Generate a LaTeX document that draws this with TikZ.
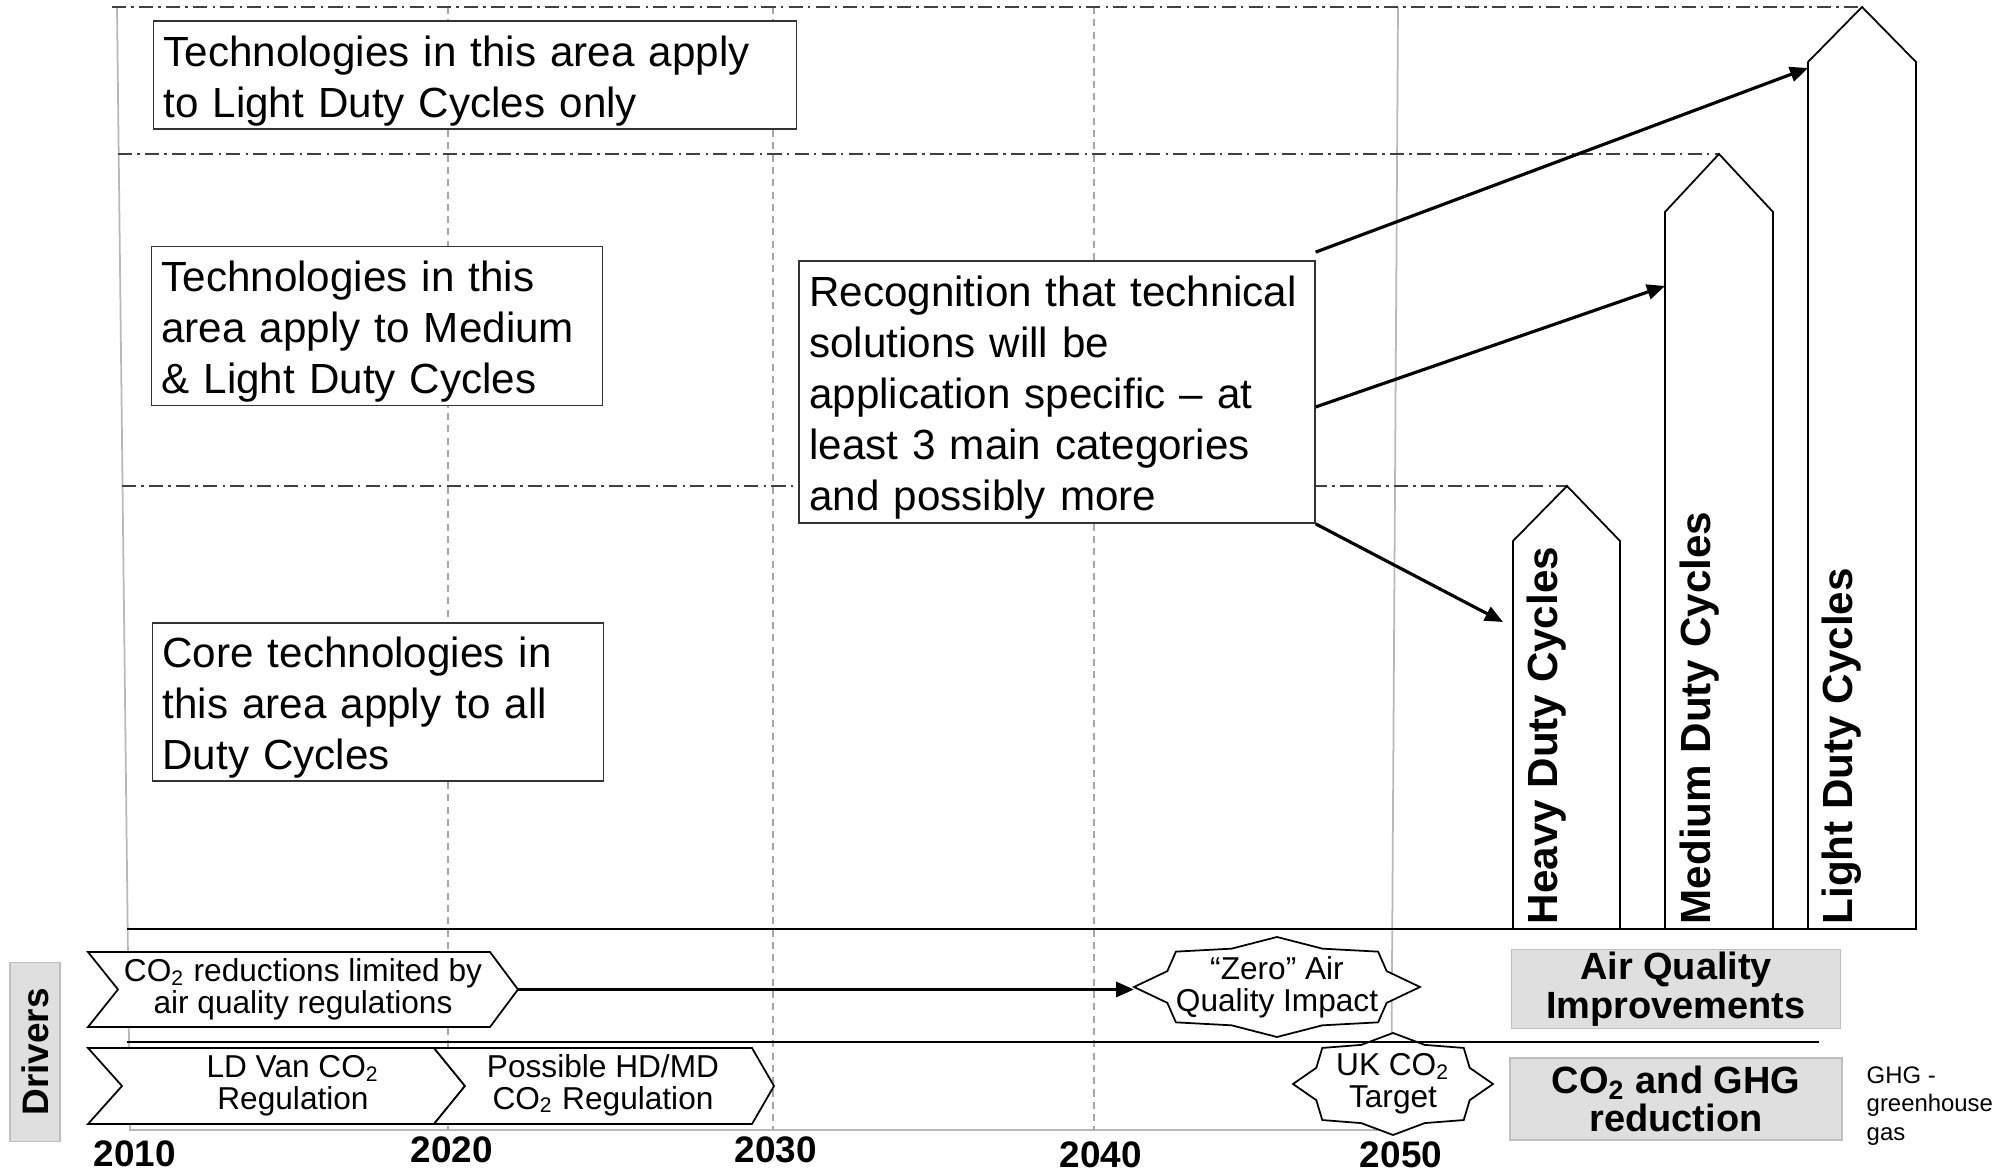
\documentclass[tikz,border=0pt]{standalone}
\usepackage{fontspec}
\setmainfont{Liberation Sans}
\usetikzlibrary{arrows.meta}
\newcommand{\cotwo}{CO\textsubscript{2}}
\begin{document}
\begin{tikzpicture}[x=0.1mm, y=-0.1mm,
  grid/.style={gray!70, line width=0.4pt, dash pattern=on 2pt off 1.5pt},
  frame/.style={gray!55, line width=0.5pt},
  band/.style={black!75, line width=0.5pt, dash pattern=on 4pt off 1.5pt on 0.7pt off 1.5pt},
  rule/.style={black, line width=0.8pt},
  note/.style={draw=black!80, line width=0.5pt, fill=white, inner sep=0pt},
  notetext/.style={inner xsep=1mm, inner ysep=0pt, align=left, font=\fontsize{12}{14.5}\selectfont},
  duty/.style={draw=black, line width=0.5pt, fill=white},
  dutylabel/.style={rotate=90, anchor=base west, inner sep=0pt, font=\fontsize{12}{14}\selectfont\bfseries},
  chev/.style={draw=black, line width=0.5pt, fill=white},
  drvtext/.style={align=center, inner sep=0pt, font=\fontsize{9}{9.1}\selectfont},
  burst/.style={draw=black, line width=0.5pt, fill=white},
  year/.style={inner sep=0pt, font=\fontsize{10.5}{12}\selectfont\bfseries},
  greybox/.style={draw=gray!50, fill=gray!25, line width=0.5pt, align=center, inner sep=0pt},
  pointer/.style={black, line width=0.9pt, -{Triangle[length=1.8mm, width=1.5mm]}}]
  \useasboundingbox (0,0) rectangle (2015,1172);

  \draw[frame] (117,7) -- (130,1130) -- (1391,1130) -- (1398,7);
  \foreach \x in {448,773,1094}
    \draw[grid] (\x,7) -- (\x,1130);

  \draw[band] (112,7) -- (1862,7);
  \draw[band] (118,154) -- (1719,154);
  \draw[band] (122,486) -- (1567,486);

  \draw[duty] (1513,929) -- (1513,541) -- (1567,486) -- (1620,541) -- (1620,929) -- cycle;
  \draw[duty] (1665,929) -- (1665,212) -- (1719,154) -- (1773,212) -- (1773,929) -- cycle;
  \draw[duty] (1808,929) -- (1808,62) -- (1862,7) -- (1916,62) -- (1916,929) -- cycle;
  \node[dutylabel] (heavy) at (1557,925) {Heavy Duty Cycles};
  \node[dutylabel] (medium) at (1710,925) {Medium Duty Cycles};
  \node[dutylabel] (light) at (1852,925) {Light Duty Cycles};

  \node[note, minimum width=6.43cm, minimum height=1.08cm] (lightonly) at (475,75) {};
  \node[notetext, text width=6.23cm] (lightonly-t) at ([yshift=-0.6mm]lightonly.center)
    {Technologies in this area apply\\to Light Duty Cycles only};
  \node[note, minimum width=4.51cm, minimum height=1.59cm] (medlight) at (377,326) {};
  \node[notetext, text width=4.31cm] (medlight-t) at ([yshift=-0.6mm]medlight.center)
    {Technologies in this\\area apply to Medium\\\& Light Duty Cycles};
  \node[note, minimum width=4.51cm, minimum height=1.58cm] (core) at (378,702) {};
  \node[notetext, text width=4.31cm] (core-t) at ([yshift=-0.6mm]core.center)
    {Core technologies in\\this area apply to all\\Duty Cycles};
  \node[note, minimum width=5.155cm, minimum height=2.62cm] (recog) at (1057,392) {};
  \node[notetext, text width=4.955cm] (recog-t) at ([yshift=-0.6mm]recog.center)
    {Recognition that technical\\solutions will be\\application specific – at\\least 3 main categories\\and possibly more};

  \node[greybox, rotate=90, minimum width=1.79cm, minimum height=0.5cm,
    font=\fontsize{10.5}{12}\selectfont\bfseries] (drivers) at (35,1052) {Drivers};

  \draw[chev] (88,952) -- (490,952) -- (518,989.5) -- (490,1027) -- (88,1027) -- (118,989.5) -- cycle;
  \node[drvtext] (limreg) at (303,989) {\cotwo{} reductions limited by\\air quality regulations};
  \coordinate (limtip) at (518,989.5);
  \draw[chev] (88,1048) -- (434,1048) -- (465,1086) -- (434,1124) -- (88,1124) -- (122,1086) -- cycle;
  \node[drvtext] (ldvan) at (293,1086) {LD Van \cotwo\\Regulation};
  \draw[chev] (434,1048) -- (752,1048) -- (774,1086) -- (752,1124) -- (434,1124) -- (465,1086) -- cycle;
  \node[drvtext] (hdmd) at (603,1085) {Possible HD/MD\\\cotwo{} Regulation};

  \node[drvtext] (zeroaq) at (1277,987) {“Zero” Air\\Quality Impact};
  \draw[burst, shift={(zeroaq.center)}] plot[variable=\a, samples at={0,22.5,...,337.5}]
    ({143*cos(\a)*(1-0.17*mod(round(\a/22.5),2))}, {50*sin(\a)*(1-0.17*mod(round(\a/22.5),2))}) -- cycle;
  \node[drvtext] at (zeroaq.center) {“Zero” Air\\Quality Impact};
  \coordinate (zeroin) at ([xshift=-14.3mm]zeroaq.center);

  \node[drvtext] (ukco2) at (1393,1084) {UK \cotwo\\Target};
  \draw[burst, shift={(ukco2.center)}] plot[variable=\a, samples at={0,22.5,...,337.5}]
    ({100*cos(\a)*(1-0.17*mod(round(\a/22.5),2))}, {51*sin(\a)*(1-0.17*mod(round(\a/22.5),2))}) -- cycle;
  \node[drvtext] at (ukco2.center) {UK \cotwo\\Target};

  \node[greybox, minimum width=3.29cm, minimum height=0.79cm,
    font=\fontsize{10.8}{11}\selectfont\bfseries] (airq) at (1676,989) {Air Quality\\Improvements};
  \node[greybox, minimum width=3.32cm, minimum height=0.82cm,
    font=\fontsize{10.8}{11}\selectfont\bfseries] (ghgred) at (1676,1099) {\cotwo{} and GHG\\reduction};
  \node[anchor=west, align=left, inner sep=0pt, font=\fontsize{6.8}{8.2}\selectfont] (ghgnote)
    at (1866,1106) {GHG -\\greenhouse\\gas};

  \foreach \x/\y/\yr in {135/1154/2010, 452/1150/2020, 776/1150/2030, 1101/1155/2040, 1401/1155/2050}
    \node[year] (y\yr) at (\x,\y) {\yr};

  \draw[rule] (127,929) -- (1916,929);
  \draw[rule] (127,1042) -- (1819,1042);

  \coordinate (lightin) at (1808,68);
  \coordinate (mediumin) at (1665,286);
  \coordinate (heavyin) at (1503,622);
  \draw[pointer] ([yshift=0.8mm]recog.north east) -- (lightin);
  \draw[pointer] ([yshift=-1.5mm]recog.east) -- (mediumin);
  \draw[pointer] (recog.south east) -- (heavyin);
  \draw[pointer] (limtip) -- (limtip -| zeroin);
\end{tikzpicture}
\end{document}
